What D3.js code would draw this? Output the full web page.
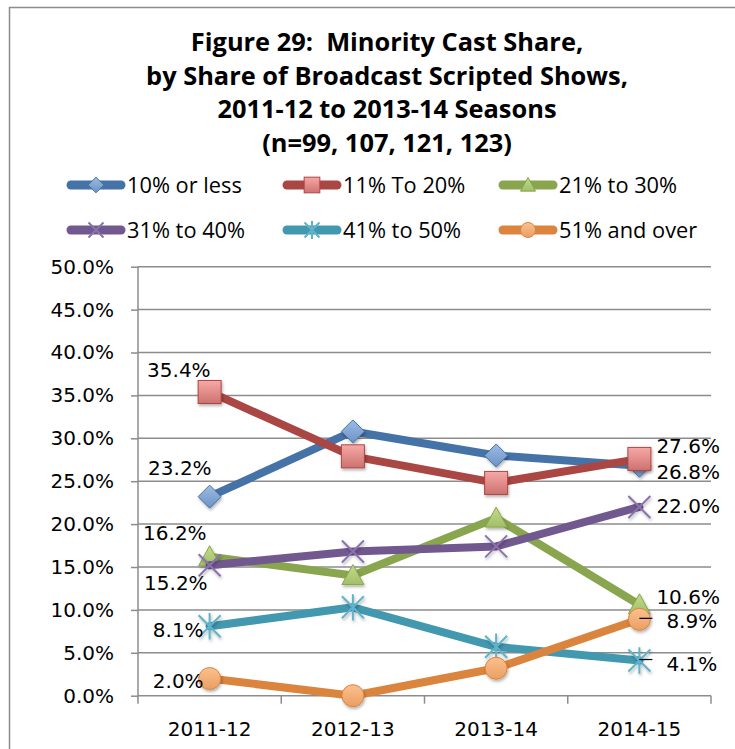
<!DOCTYPE html>
<meta charset="utf-8">
<style>
body { margin: 0; background: #ffffff; }
svg { display: block; }
.tick line { stroke: #8c8c8c; stroke-width: 1.5px; }
.domain { display: none; }
.title { white-space: pre; }
</style>
<body>
<script src="https://cdn.jsdelivr.net/npm/d3@7"></script>
<script>

// chart values (percent)
var seasons = ["2011-12", "2012-13", "2013-14", "2014-15"];
var seriesNames = ["10% or less", "11% To 20%", "21% to 30%", "31% to 40%", "41% to 50%", "51% and over"];
var lessThan10 = [23.2, 30.8, 28.0, 26.8];
var from11to20 = [35.4, 27.9, 24.8, 27.6];
var from21to30 = [16.2, 14.0, 20.7, 10.6];
var from31to40 = [15.2, 16.8, 17.4, 22.0];
var from41to50 = [8.1, 10.3, 5.7, 4.1];
var over51 = [2.0, 0.0, 3.2, 8.9];
var yTicks = [0, 5, 10, 15, 20, 25, 30, 35, 40, 45, 50];
var titleLines = ["Figure 29:  Minority Cast Share,", "by Share of Broadcast Scripted Shows,",
  "2011-12 to 2013-14 Seasons", "(n=99, 107, 121, 123)"];

var allSeries = [lessThan10, from11to20, from21to30, from31to40, from41to50, over51];

// look of each series
var lineColors = ["#4572a7", "#aa4643", "#89a54e", "#71588f", "#4198af", "#db843d"];
var lightColors = ["#9dbbe6", "#f7a8a6", "#c2dc8a", "#a48cc4", "#7fcbe0", "#fcc08f"];
var markerTypes = ["diamond", "square", "triangle", "cross", "star", "circle"];

// where the point labels sit, relative to the point: [series, point, dx, dy, anchor, leader]
var labelSpots = [
  [0, 0, 2, -22, "end"], [0, 3, 17, 13, "start"],
  [1, 0, 1, -15, "end"], [1, 3, 17, -6, "start"],
  [2, 0, -3, -17, "end"], [2, 3, 17, -1, "start"],
  [3, 0, -2, 25, "end"], [3, 3, 17, 6, "start"],
  [4, 0, -6, 11, "end"], [4, 3, 27, 10, "start", true],
  [5, 0, -6, 9, "end"], [5, 3, 27, 9, "start", true]
];

var W = 735, H = 749;
var plotLeft = 138, plotRight = 711, plotTop = 266.7, plotBottom = 695.7;
var tickFont = "'DejaVu Sans', Verdana, sans-serif";
var titleFont = "'Open Sans', Lato, sans-serif";

var svg = d3.select("body").append("svg")
  .attr("width", W)
  .attr("height", H);

var defs = svg.append("defs");

// soft shadow under the markers
var shadow = defs.append("filter").attr("id", "shadow")
  .attr("x", "-50%").attr("y", "-50%").attr("width", "200%").attr("height", "200%");
shadow.append("feDropShadow")
  .attr("dx", 1).attr("dy", 2).attr("stdDeviation", 1.6)
  .attr("flood-color", "#000").attr("flood-opacity", 0.3);

lineColors.forEach(function(c, i) {
  var g = defs.append("linearGradient").attr("id", "grad" + i)
    .attr("x1", 0).attr("y1", 0).attr("x2", 0).attr("y2", 1);
  g.append("stop").attr("offset", "0%").attr("stop-color", lightColors[i]);
  g.append("stop").attr("offset", "100%").attr("stop-color", d3.interpolateRgb(lightColors[i], c)(0.55));
});

// outer frame
svg.append("rect")
  .attr("x", 9.5).attr("y", 7.5)
  .attr("width", 760).attr("height", 800)
  .attr("fill", "none")
  .attr("stroke", "#8c8c8c")
  .attr("stroke-width", 1.5);

// title
svg.append("g").selectAll("text")
  .data(titleLines)
  .enter().append("text")
  .attr("class", "title")
  .attr("x", 387)
  .attr("y", function(d, i) { return 51 + i * 33.7; })
  .attr("text-anchor", "middle")
  .style("font-family", titleFont)
  .style("font-weight", "bold")
  .style("font-size", "25.4px")
  .style("fill", "#000")
  .text(function(d) { return d; });

// scales
var x = d3.scaleBand().domain(seasons).range([plotLeft, plotRight]).padding(0);
var y = d3.scaleLinear().domain([0, 50]).range([plotBottom, plotTop]);
function cx(i) { return x(seasons[i]) + x.bandwidth() / 2; }

// horizontal gridlines
svg.append("g").selectAll("line")
  .data(yTicks.filter(function(d) { return d > 0; }))
  .enter().append("line")
  .attr("x1", plotLeft).attr("x2", plotRight)
  .attr("y1", function(d) { return y(d); })
  .attr("y2", function(d) { return y(d); })
  .attr("stroke", "#8c8c8c")
  .attr("stroke-width", 1.5);

// y axis
var yAxis = svg.append("g")
  .attr("transform", "translate(" + plotLeft + ",0)")
  .call(d3.axisLeft(y).tickValues(yTicks).tickSize(7).tickPadding(17)
    .tickFormat(function(d) { return d.toFixed(1) + "%"; }));
yAxis.selectAll("text")
  .style("font-family", tickFont)
  .style("font-size", "20px")
  .style("fill", "#000");

svg.append("line")
  .attr("x1", plotLeft).attr("x2", plotLeft)
  .attr("y1", plotTop).attr("y2", plotBottom + 8)
  .attr("stroke", "#8c8c8c").attr("stroke-width", 1.5);

// x axis: baseline, band-edge ticks and labels
svg.append("line")
  .attr("x1", plotLeft).attr("x2", plotRight)
  .attr("y1", plotBottom).attr("y2", plotBottom)
  .attr("stroke", "#8c8c8c").attr("stroke-width", 1.5);

svg.append("g").selectAll("line")
  .data(seasons)
  .enter().append("line")
  .attr("x1", function(d) { return x(d) + x.bandwidth(); })
  .attr("x2", function(d) { return x(d) + x.bandwidth(); })
  .attr("y1", plotBottom).attr("y2", plotBottom + 8)
  .attr("stroke", "#8c8c8c").attr("stroke-width", 1.5);

var xAxis = svg.append("g")
  .attr("transform", "translate(0," + plotBottom + ")")
  .call(d3.axisBottom(x).tickSize(0).tickPadding(26));
xAxis.selectAll("text")
  .style("font-family", tickFont)
  .style("font-size", "20px")
  .style("fill", "#000");

// marker drawing
function drawMarker(g, type, i, s) {
  var k = s / 22;
  if (type === "diamond") {
    g.append("path")
      .attr("d", "M0," + (-11.5 * k) + "L" + (11.5 * k) + ",0L0," + (11.5 * k) + "L" + (-11.5 * k) + ",0Z")
      .attr("fill", "url(#grad" + i + ")").attr("stroke", lineColors[i]).attr("stroke-width", 1);
  } else if (type === "square") {
    g.append("rect")
      .attr("x", -11.5 * k).attr("y", -11.5 * k).attr("width", 23 * k).attr("height", 23 * k)
      .attr("fill", "url(#grad" + i + ")").attr("stroke", lineColors[i]).attr("stroke-width", 1);
  } else if (type === "triangle") {
    g.append("path")
      .attr("d", "M0," + (-11 * k) + "L" + (11 * k) + "," + (9 * k) + "L" + (-11 * k) + "," + (9 * k) + "Z")
      .attr("fill", "url(#grad" + i + ")").attr("stroke", lineColors[i]).attr("stroke-width", 1);
  } else if (type === "circle") {
    g.append("circle")
      .attr("r", 11 * k)
      .attr("fill", "url(#grad" + i + ")").attr("stroke", lineColors[i]).attr("stroke-width", 1);
  } else {
    var r = 11 * k;
    var p = "M" + (-r) + "," + (-r) + "L" + r + "," + r + "M" + r + "," + (-r) + "L" + (-r) + "," + r;
    if (type === "star") p += "M0," + (-r * 1.2) + "L0," + (r * 1.2);
    g.append("path")
      .attr("d", p)
      .attr("fill", "none")
      .attr("stroke", type === "cross" ? "#8a72ad" : "#5fb3ca")
      .attr("stroke-width", 2);
  }
}

// lines and markers, later series on top
var line = d3.line()
  .x(function(d, j) { return cx(j); })
  .y(function(d) { return y(d); });

allSeries.forEach(function(vals, i) {
  var g = svg.append("g");
  g.append("path")
    .datum(vals)
    .attr("d", line)
    .attr("fill", "none")
    .attr("stroke", lineColors[i])
    .attr("stroke-width", 8)
    .attr("stroke-linejoin", "round")
    .attr("stroke-linecap", "round");
  vals.forEach(function(v, j) {
    var m = g.append("g")
      .attr("transform", "translate(" + cx(j) + "," + y(v) + ")")
      .attr("filter", "url(#shadow)");
    drawMarker(m, markerTypes[i], i, 22);
  });
});

// point labels
labelSpots.forEach(function(l) {
  var v = allSeries[l[0]][l[1]];
  var px = cx(l[1]), py = y(v);
  if (l[5]) {
    svg.append("line")
      .attr("x1", px).attr("x2", px + 13)
      .attr("y1", py - 1).attr("y2", py - 1)
      .attr("stroke", "#000").attr("stroke-width", 1.2);
  }
  svg.append("text")
    .attr("x", px + l[2])
    .attr("y", py + l[3])
    .attr("text-anchor", l[4])
    .style("font-family", tickFont)
    .style("font-size", "20px")
    .style("fill", "#000")
    .text(v.toFixed(1) + "%");
});

// legend
var legend = svg.append("g").selectAll("g")
  .data(seriesNames)
  .enter().append("g")
  .attr("transform", function(d, i) {
    return "translate(" + (67 + (i % 3) * 216) + "," + (185 + Math.floor(i / 3) * 45) + ")";
  });

legend.append("line")
  .attr("x1", 4).attr("x2", 54)
  .attr("y1", 0).attr("y2", 0)
  .attr("stroke", function(d, i) { return lineColors[i]; })
  .attr("stroke-width", 9)
  .attr("stroke-linecap", "round");

legend.each(function(d, i) {
  drawMarker(d3.select(this).append("g").attr("transform", "translate(29,0)"), markerTypes[i], i, 15);
});

legend.append("text")
  .attr("x", 60)
  .attr("y", 7.5)
  .style("font-family", titleFont)
  .style("font-size", "21.8px")
  .style("fill", "#000")
  .text(function(d) { return d; });

</script>
</body>
